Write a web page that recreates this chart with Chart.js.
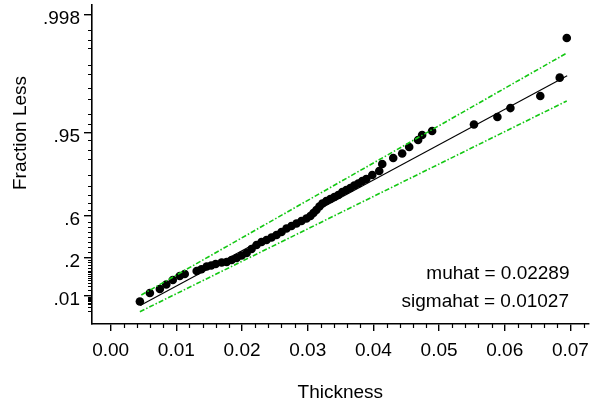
<!DOCTYPE html>
<html lang="en">
<head>
<meta charset="UTF-8" />
<title>Thickness - extreme value probability plot</title>
<script src="https://cdn.jsdelivr.net/npm/chart.js@4"></script>
<style>
  html, body { margin: 0; padding: 0; background: #fff; }
  #wrap { width: 593px; height: 407px; }
</style>
</head>
<body>
<div id="wrap"><canvas id="plot" width="593" height="407"></canvas></div>
<script>
  // Sorted thickness measurements and their cumulative fractions
  const thickness = [
    0.00445, 0.00597, 0.00749, 0.00847, 0.00946, 0.01052, 0.01128, 0.01310, 0.01382, 0.01462,
    0.01531, 0.01599, 0.01690, 0.01766, 0.01842, 0.01918, 0.01994, 0.02070, 0.02145, 0.02221,
    0.02297, 0.02373, 0.02449, 0.02525, 0.02601, 0.02677, 0.02753, 0.02829, 0.02905, 0.02981,
    0.03041, 0.03087, 0.03132, 0.03178, 0.03224, 0.03284, 0.03345, 0.03406, 0.03466, 0.03527,
    0.03588, 0.03649, 0.03709, 0.03770, 0.03831, 0.03892, 0.03983, 0.04089, 0.04135, 0.04302,
    0.04438, 0.04545, 0.04681, 0.04742, 0.04894, 0.05531, 0.05888, 0.06086, 0.06541, 0.06837,
    0.06944
  ];
  const fractionLess = [
    0.00466, 0.0143, 0.0223, 0.0347, 0.0514, 0.0700, 0.0807, 0.0986, 0.1096, 0.1291,
    0.1365, 0.1480, 0.1599, 0.1640, 0.1806, 0.1980, 0.2205, 0.2439, 0.2826, 0.3224,
    0.3527, 0.3730, 0.3982, 0.4234, 0.4533, 0.4875, 0.5113, 0.5347, 0.5574, 0.5795,
    0.6010, 0.6258, 0.6495, 0.6757, 0.6970, 0.7141, 0.7270, 0.7396, 0.7517, 0.7689,
    0.7797, 0.7903, 0.8027, 0.8122, 0.8236, 0.8322, 0.8482, 0.8629, 0.8856, 0.9021,
    0.9130, 0.9267, 0.9391, 0.9468, 0.9522, 0.9599, 0.9673, 0.9743, 0.9815, 0.9888,
    0.99623
  ];

  // Fitted parameters and the span of the fitted line
  const muhat = 0.02289;
  const sigmahat = 0.01027;
  const fitRange = [0.0045, 0.0695];

  // Confidence bounds
  const upperBandX = [0.00467, 0.06944];
  const upperBandP = [0.01124, 0.99430];
  const lowerBandX = [0.00445, 0.06944];
  const lowerBandP = [0.000817, 0.97880];

  // Axis ticks
  const xTicks = [0, 0.01, 0.02, 0.03, 0.04, 0.05, 0.06, 0.07];
  const xTickLabels = ['0.00', '0.01', '0.02', '0.03', '0.04', '0.05', '0.06', '0.07'];
  const xMinorTicks = [];
  for (let i = 1; i <= 36; i++) if (i % 5) xMinorTicks.push(i * 0.002);
  const yTicks = [0.998, 0.95, 0.6, 0.2, 0.01];
  const yTickLabels = ['.998', '.95', '.6', '.2', '.01'];
  const yMinorTicks = [
    0.001, 0.002, 0.003, 0.004, 0.005, 0.006, 0.007, 0.008, 0.009,
    0.02, 0.03, 0.04, 0.05, 0.06, 0.07, 0.08, 0.09, 0.1, 0.12, 0.14, 0.16, 0.18,
    0.25, 0.3, 0.35, 0.4, 0.45, 0.5, 0.55,
    0.65, 0.7, 0.75, 0.8, 0.85, 0.9, 0.92, 0.94,
    0.96, 0.97, 0.98, 0.985, 0.99, 0.992, 0.995, 0.996, 0.997
  ];

  // Probability -> reduced variate of the largest extreme value distribution
  const ev = p => -Math.log(-Math.log(p));

  const FONT = '"Liberation Sans", Arial, Helvetica, sans-serif';
  const GREEN = '#14c814';
  Chart.defaults.font.family = FONT;
  Chart.defaults.font.size = 19;
  Chart.defaults.color = '#000';

  const points = thickness.map((x, i) => ({ x, y: ev(fractionLess[i]) }));
  const fitLine = fitRange.map(x => ({ x, y: (x - muhat) / sigmahat }));
  const upperBand = upperBandX.map((x, i) => ({ x, y: ev(upperBandP[i]) }));
  const lowerBand = lowerBandX.map((x, i) => ({ x, y: ev(lowerBandP[i]) }));

  // Minor ticks, axis titles and the parameter text
  const extras = {
    id: 'extras',
    afterDraw(chart) {
      const { ctx, chartArea: a, scales: { x, y } } = chart;
      ctx.save();
      ctx.strokeStyle = '#000';
      ctx.lineWidth = 1.2;
      ctx.beginPath();
      xMinorTicks.forEach(v => {
        const px = Math.round(x.getPixelForValue(v)) + 0.5;
        ctx.moveTo(px, a.bottom);
        ctx.lineTo(px, a.bottom + 4);
      });
      yMinorTicks.forEach(p => {
        const py = Math.round(y.getPixelForValue(ev(p))) + 0.5;
        ctx.moveTo(a.left - 4, py);
        ctx.lineTo(a.left, py);
      });
      ctx.stroke();

      ctx.fillStyle = '#000';
      ctx.font = '19px ' + FONT;
      ctx.textBaseline = 'middle';
      ctx.textAlign = 'center';
      ctx.fillText('Thickness', (a.left + a.right) / 2, 392.5);
      ctx.save();
      ctx.translate(20.5, 133);
      ctx.rotate(-Math.PI / 2);
      ctx.fillText('Fraction Less', 0, 0);
      ctx.restore();
      ctx.textAlign = 'right';
      ctx.fillText('muhat = ' + muhat.toFixed(5), 569.5, 273.5);
      ctx.fillText('sigmahat = ' + sigmahat.toFixed(5), 569, 301.5);
      ctx.restore();
    }
  };

  new Chart(document.getElementById('plot'), {
    type: 'scatter',
    data: {
      datasets: [
        { type: 'line', data: upperBand, borderColor: GREEN, borderWidth: 1.6,
          borderDash: [5, 2, 1.5, 2], pointRadius: 0, fill: false, order: 1 },
        { type: 'line', data: lowerBand, borderColor: GREEN, borderWidth: 1.6,
          borderDash: [5, 2, 1.5, 2], pointRadius: 0, fill: false, order: 1 },
        { data: points, backgroundColor: '#000', borderWidth: 0, pointRadius: 4.3, order: 2 },
        { type: 'line', data: fitLine, borderColor: '#000', borderWidth: 1.1,
          pointRadius: 0, fill: false, order: 3 }
      ]
    },
    options: {
      responsive: false,
      animation: false,
      layout: { padding: { top: 5, right: 3, left: 0, bottom: 0 } },
      plugins: { legend: { display: false }, tooltip: { enabled: false } },
      scales: {
        x: {
          type: 'linear',
          min: -0.00284,
          max: 0.07278,
          border: { color: '#000', width: 1.6 },
          grid: { drawOnChartArea: false, drawTicks: true, tickLength: 7, color: '#000', lineWidth: 1.4 },
          ticks: { padding: 8, maxRotation: 0, autoSkip: false,
                   callback: (v, i) => xTickLabels[i] },
          afterBuildTicks: s => { s.ticks = xTicks.map(value => ({ value })); },
          afterFit: s => { s.height = 83; s.paddingLeft = 0; s.paddingRight = 0; }
        },
        y: {
          type: 'linear',
          min: -2.30,
          max: 6.488,
          border: { color: '#000', width: 1.6 },
          grid: { drawOnChartArea: false, drawTicks: true, tickLength: 8, color: '#000', lineWidth: 1.4 },
          ticks: { padding: 4, labelOffset: 4, autoSkip: false,
                   callback: (v, i) => yTickLabels[i] },
          afterBuildTicks: s => { s.ticks = yTicks.map(p => ({ value: ev(p) })); },
          afterFit: s => { s.width = 92; s.paddingTop = 0; s.paddingBottom = 0; }
        }
      }
    },
    plugins: [extras]
  });
</script>
</body>
</html>
